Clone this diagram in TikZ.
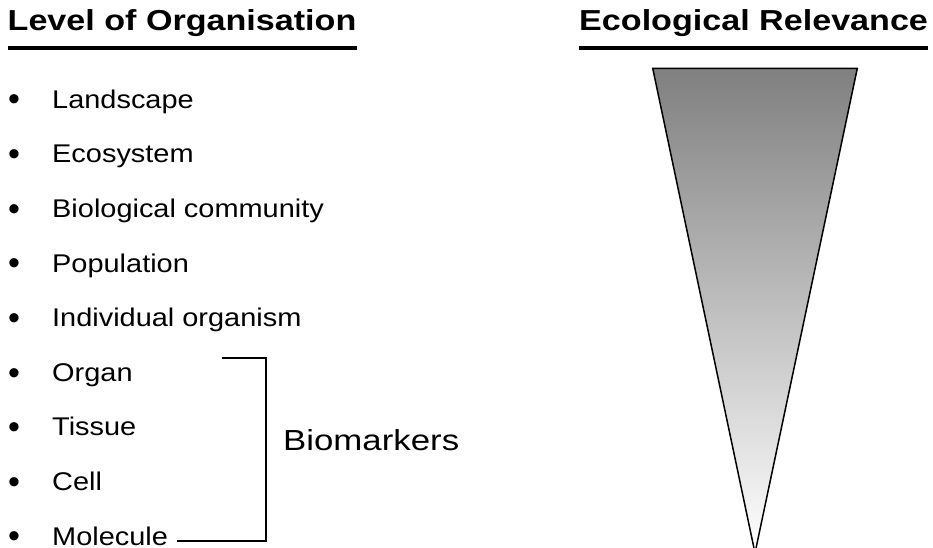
\documentclass[tikz,border=0pt]{standalone}
\usepackage{fontspec}
\setmainfont{Liberation Sans}
\newfontfamily\listfont{Liberation Sans}[FakeStretch=1.13]
\newfontfamily\titlefont{Liberation Sans}[FakeStretch=1.18]
\newfontfamily\markfont{Liberation Sans}[FakeStretch=1.2]
\usetikzlibrary{positioning}

\begin{document}
\begin{tikzpicture} [
      x = 1pt, y = -1pt,
      inner sep = 0,
      every node/.style = {anchor = base west},
      heading/.style = {font = \titlefont\bfseries\fontsize{28.9}{34}\selectfont},
      level/.style = {font = \listfont\fontsize{25.6}{30}\selectfont},
      dot/.style = {anchor = base, font = \fontsize{34}{38}\selectfont}
      ]
    \useasboundingbox (0,0) rectangle (933,548);

    % headings
    \node [heading] (lvl) at (7.5,30.7) {Level of Organisation};
    \node [heading] (eco) at (579,30.7) {Ecological Relevance};
    \draw [line width = 4pt] ([yshift=-17.8pt]lvl.base west) -- ([yshift=-17.8pt]lvl.base east);
    \draw [line width = 4pt] ([yshift=-17.8pt]eco.base west) -- ([yshift=-17.8pt]eco.base east);

    % levels
    \foreach \name [count = \i from 0] in {Landscape, Ecosystem, Biological community, Population,
        Individual organism, Organ, Tissue, Cell, Molecule} {
      \node [dot] (b\i) at (14, 111 + 54.6*\i) {\textbullet};
      \node [level] (l\i) at (52, 108.3 + 54.6*\i) {\name};
    }

    % bracket
    \coordinate (brtop) at (222,358);
    \coordinate (brcorner) at (266,541);
    \coordinate (brbot) at (177,541);
    \draw [line width = 1.5pt] (brtop) -| (brcorner) -- (brbot);
    \node [font = \markfont\fontsize{29}{34}\selectfont] (bio) at (283,450.7) {Biomarkers};

    % relevance wedge
    \coordinate (tl) at (652.7,68.3);
    \coordinate (tr) at (857.3,68.3);
    \coordinate (tip) at (755,553);
    \draw [line width = 1.5pt, top color = black!50, bottom color = white] (tl) -- (tr) -- (tip) -- cycle;
\end{tikzpicture}
\end{document}
